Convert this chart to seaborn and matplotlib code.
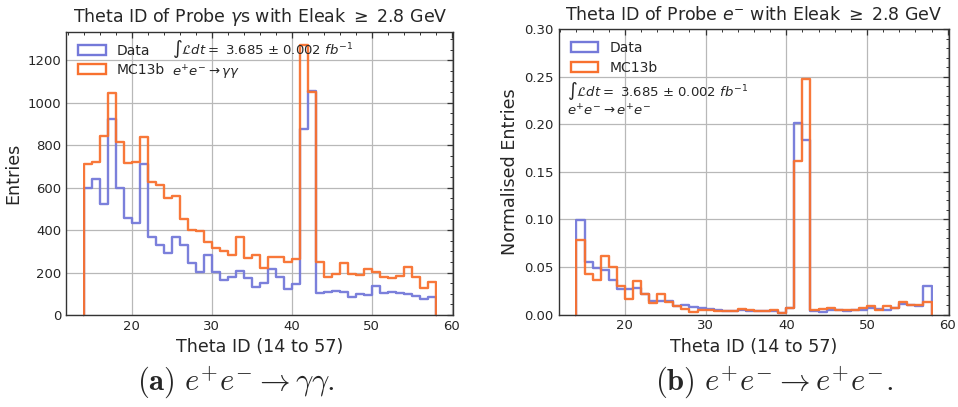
import numpy as np
import pandas as pd
import matplotlib
matplotlib.use("Agg")
import matplotlib.pyplot as plt
from matplotlib.patches import Patch, Rectangle
from matplotlib.ticker import AutoMinorLocator, MultipleLocator, FormatStrFormatter
import seaborn as sns

# Theta ID bins: integer IDs 14..57, bin edges 14..58
theta_ids = list(range(14, 58))

# e+e- -> gamma gamma : raw entries per Theta ID
gg_data = [596, 640, 521, 923, 596, 458, 435, 709, 369, 330, 290, 369, 330, 243,
           204, 282, 204, 165, 180, 209, 176, 133, 149, 215, 180, 121, 144, 874,
           1055, 105, 110, 115, 110, 83, 99, 94, 138, 102, 107, 105, 99, 89, 75, 83]
gg_mc = [711, 722, 843, 1043, 816, 717, 722, 839, 624, 612, 552, 562, 452, 400,
         395, 342, 314, 303, 282, 369, 270, 282, 220, 271, 271, 248, 265, 1271,
         1050, 251, 177, 193, 246, 193, 188, 215, 201, 180, 176, 185, 228, 177, 126, 157]

# e+e- -> e+e- : normalised entries per Theta ID
ee_data = [0.099, 0.055, 0.049, 0.047, 0.036, 0.027, 0.027, 0.028, 0.022, 0.014, 0.014,
           0.014, 0.009, 0.010, 0.008, 0.007, 0.006, 0.0045, 0.0035, 0.004, 0.005, 0.0035,
           0.0035, 0.004, 0.004, 0.002, 0.007, 0.201, 0.184, 0.0035, 0.003, 0.0045, 0.0045,
           0.004, 0.005, 0.005, 0.007, 0.006, 0.0045, 0.007, 0.0115, 0.010, 0.009, 0.030]
ee_mc = [0.078, 0.043, 0.036, 0.062, 0.050, 0.030, 0.016, 0.035, 0.022, 0.012, 0.022,
         0.013, 0.009, 0.006, 0.003, 0.005, 0.005, 0.0035, 0.0035, 0.0035, 0.006, 0.005,
         0.0035, 0.004, 0.0045, 0.002, 0.007, 0.161, 0.248, 0.0045, 0.006, 0.007, 0.0045,
         0.0045, 0.005, 0.007, 0.009, 0.0045, 0.009, 0.007, 0.013, 0.0105, 0.0105, 0.013]

series_labels = ["Data", "MC13b"]
series_colors = ["#7479d9", "#f8712f"]

sns.set_style("white")
plt.rcParams["font.family"] = ["DejaVu Sans"]
plt.rcParams["mathtext.fontset"] = "dejavusans"

fig = plt.figure(figsize=(9.58, 4.07), dpi=100)
W, H = 958, 407


def px_axes(x0, x1, y0, y1):
    return fig.add_axes([x0 / W, 1 - y1 / H, (x1 - x0) / W, (y1 - y0) / H])


ax1 = px_axes(66.3, 453.3, 31.7, 315.0)
ax2 = px_axes(558.7, 949.3, 29.3, 314.5)

# pad with an empty bin on each side so every step outline drops back to zero;
# the flat zero runs of the padding bins are clipped away afterwards
lo, hi = theta_ids[0], theta_ids[-1] + 1
centers = np.array([lo - 1] + theta_ids + [hi]) + 0.5


def draw_hist(ax, values, color, label):
    df = pd.DataFrame({"theta": centers, "w": [0.0] + list(values) + [0.0]})
    n_before = len(ax.lines)
    sns.histplot(data=df, x="theta", weights="w", binwidth=1, binrange=(lo - 1, hi + 1),
                 element="step", fill=False, color=color, linewidth=1.7, alpha=0.95,
                 ax=ax, label=label)
    clip = Rectangle((lo - 0.12, -1e6), (hi - lo) + 0.24, 2e6, transform=ax.transData)
    for line in ax.lines[n_before:]:
        line.set_clip_path(clip)


panels = [
    (ax1, gg_data, gg_mc, "Entries",
     "Theta ID of Probe $\\gamma$s with Eleak $\\geq$ 2.8 GeV",
     r"$e^{+}e^{-} \rightarrow \gamma\gamma$"),
    (ax2, ee_data, ee_mc, "Normalised Entries",
     "Theta ID of Probe $e^{-}$ with Eleak $\\geq$ 2.8 GeV",
     r"$e^{+}e^{-} \rightarrow e^{+}e^{-}$"),
]

for ax, d, m, ylab, title, proc in panels:
    draw_hist(ax, d, series_colors[0], series_labels[0])
    draw_hist(ax, m, series_colors[1], series_labels[1])
    ax.set_xlim(11.8, 60.2)
    ax.set_xlabel("Theta ID (14 to 57)", fontsize=12.6)
    ax.set_ylabel(ylab, fontsize=12.6)
    ax.set_title(title, fontsize=12.5, pad=7)
    ax.xaxis.set_major_locator(MultipleLocator(10))
    ax.xaxis.set_minor_locator(AutoMinorLocator())
    ax.yaxis.set_minor_locator(AutoMinorLocator())
    ax.tick_params(which="both", direction="in", top=True, right=True, labelsize=9.5,
                   color="#333333")
    ax.tick_params(which="major", length=4, width=0.9)
    ax.tick_params(which="minor", length=2, width=0.7)
    ax.grid(True, which="major", color="#b8b8b8", linewidth=0.9)
    ax.set_axisbelow(True)
    for sp in ax.spines.values():
        sp.set_color("#333333")
        sp.set_linewidth(1.0)
    handles = [Patch(facecolor="none", edgecolor=c, linewidth=1.7, label=l)
               for c, l in zip(series_colors, series_labels)]
    ax.legend(handles=handles, loc="upper left", frameon=False, fontsize=10,
              borderaxespad=0.45, handlelength=2.0, labelspacing=0.4)

ax1.set_ylim(0, 1334)
ax1.yaxis.set_major_locator(MultipleLocator(200))
ax2.set_ylim(0, 0.30)
ax2.yaxis.set_major_locator(MultipleLocator(0.05))
ax2.yaxis.set_major_formatter(FormatStrFormatter("%.2f"))

lumi = r"$\int\mathcal{L}dt = $ 3.685 $\pm$ 0.002 $fb^{-1}$"
ax1.text(0.272, 0.940, lumi, transform=ax1.transAxes, fontsize=9.5, va="center")
ax1.text(0.272, 0.853, panels[0][5], transform=ax1.transAxes, fontsize=9.5, va="center")
ax2.text(0.022, 0.785, lumi, transform=ax2.transAxes, fontsize=9.5, va="center")
ax2.text(0.022, 0.715, panels[1][5], transform=ax2.transAxes, fontsize=9.5, va="center")

# sub-figure captions
fig.text(137 / W, 1 - 383 / H, r"$\mathbf{(a)}\ e^{+}e^{-} \rightarrow \gamma\gamma\mathbf{.}$",
         ha="left", va="center", fontsize=22, math_fontfamily="cm")
fig.text(655 / W, 1 - 383 / H, r"$\mathbf{(b)}\ e^{+}e^{-} \rightarrow e^{+}e^{-}\mathbf{.}$",
         ha="left", va="center", fontsize=22, math_fontfamily="cm")

fig.savefig("out.png", dpi=100)
